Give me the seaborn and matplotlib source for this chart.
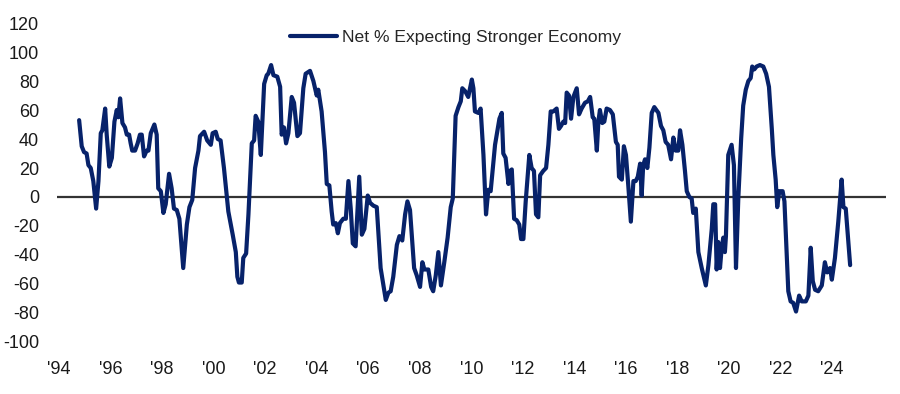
"""
Net % Expecting Stronger Economy, 1994-2024
- line chart in seaborn, values read off the reference picture
"""

import pandas as pd
import seaborn as sns
import matplotlib
matplotlib.use('Agg')
import matplotlib.pyplot as plt

# decimal year of each point and the net % value
years = [
    1994.78, 1994.88, 1994.97, 1995.07, 1995.14, 1995.23, 1995.33, 1995.44, 1995.53, 1995.62,
    1995.68, 1995.79, 1995.85, 1995.95, 1996.05, 1996.15, 1996.24, 1996.30, 1996.37, 1996.46,
    1996.56, 1996.63, 1996.72, 1996.78, 1996.84, 1996.95, 1997.05, 1997.14, 1997.21, 1997.30,
    1997.40, 1997.47, 1997.56, 1997.70, 1997.79, 1997.85, 1997.95, 1998.05, 1998.14, 1998.27,
    1998.37, 1998.46, 1998.57, 1998.67, 1998.82, 1998.96, 1999.06, 1999.17, 1999.28, 1999.41,
    1999.47, 1999.63, 1999.75, 1999.89, 1999.96, 2000.08, 2000.16, 2000.27, 2000.40, 2000.57,
    2000.74, 2000.86, 2000.92, 2000.98, 2001.09, 2001.15, 2001.26, 2001.35, 2001.48, 2001.57,
    2001.63, 2001.73, 2001.83, 2001.96, 2002.06, 2002.12, 2002.23, 2002.32, 2002.47, 2002.58,
    2002.64, 2002.73, 2002.81, 2002.90, 2003.03, 2003.12, 2003.25, 2003.35, 2003.48, 2003.57,
    2003.74, 2003.87, 2004.00, 2004.06, 2004.19, 2004.32, 2004.39, 2004.49, 2004.58, 2004.64,
    2004.74, 2004.82, 2004.90, 2005.03, 2005.13, 2005.23, 2005.32, 2005.40, 2005.51, 2005.65,
    2005.75, 2005.85, 2005.98, 2006.07, 2006.20, 2006.33, 2006.48, 2006.59, 2006.68, 2006.78,
    2006.87, 2006.97, 2007.11, 2007.21, 2007.32, 2007.43, 2007.52, 2007.62, 2007.78, 2007.88,
    2008.01, 2008.10, 2008.18, 2008.33, 2008.44, 2008.52, 2008.62, 2008.72, 2008.82, 2008.95,
    2009.08, 2009.20, 2009.28, 2009.39, 2009.50, 2009.59, 2009.65, 2009.76, 2009.88, 2010.02,
    2010.08, 2010.14, 2010.27, 2010.36, 2010.47, 2010.57, 2010.66, 2010.75, 2010.92, 2011.09,
    2011.18, 2011.24, 2011.33, 2011.44, 2011.50, 2011.57, 2011.66, 2011.76, 2011.86, 2011.93,
    2012.02, 2012.11, 2012.25, 2012.34, 2012.43, 2012.51, 2012.60, 2012.67, 2012.79, 2012.90,
    2012.99, 2013.08, 2013.18, 2013.31, 2013.40, 2013.48, 2013.57, 2013.64, 2013.70, 2013.79,
    2013.87, 2013.96, 2014.09, 2014.18, 2014.28, 2014.41, 2014.52, 2014.61, 2014.71, 2014.77,
    2014.87, 2014.93, 2014.99, 2015.08, 2015.16, 2015.25, 2015.38, 2015.49, 2015.61, 2015.68,
    2015.73, 2015.84, 2015.92, 2016.00, 2016.09, 2016.19, 2016.29, 2016.38, 2016.46, 2016.55,
    2016.61, 2016.67, 2016.74, 2016.83, 2016.91, 2017.00, 2017.10, 2017.26, 2017.36, 2017.45,
    2017.54, 2017.64, 2017.75, 2017.84, 2017.93, 2018.03, 2018.10, 2018.19, 2018.29, 2018.36,
    2018.46, 2018.55, 2018.61, 2018.71, 2018.81, 2018.94, 2019.10, 2019.20, 2019.33, 2019.39,
    2019.46, 2019.52, 2019.58, 2019.65, 2019.72, 2019.78, 2019.84, 2019.88, 2019.97, 2020.10,
    2020.19, 2020.27, 2020.36, 2020.47, 2020.55, 2020.65, 2020.75, 2020.84, 2020.90, 2020.98,
    2021.07, 2021.20, 2021.33, 2021.44, 2021.55, 2021.66, 2021.72, 2021.81, 2021.87, 2021.95,
    2022.08, 2022.15, 2022.24, 2022.30, 2022.39, 2022.49, 2022.60, 2022.72, 2022.82, 2022.98,
    2023.08, 2023.17, 2023.25, 2023.34, 2023.46, 2023.60, 2023.72, 2023.81, 2023.92, 2023.99,
    2024.11, 2024.24, 2024.37, 2024.44, 2024.53, 2024.70,
]
net_pct = [
    53, 35, 31, 30, 22, 20, 11, -8, 11, 44,
    46, 61, 43, 21, 27, 52, 60, 55, 68, 51,
    48, 43, 43, 37, 32, 32, 37, 43, 43, 28,
    32, 32, 44, 50, 43, 6, 4, -11, -5, 16,
    6, -8, -9, -15, -49, -19, -7, -2, 20, 32,
    42, 45, 39, 36, 44, 45, 40, 39, 20, -10,
    -26, -38, -55, -59, -59, -42, -39, -12, 37, 39,
    56, 52, 29, 78, 84, 85, 91, 84, 83, 76,
    43, 48, 37, 44, 69, 65, 42, 44, 75, 85,
    87, 80, 70, 74, 59, 31, 9, 8, -10, -19,
    -18, -25, -18, -15, -15, 11, -8, -32, -34, 14,
    -26, -22, 1, -4, -6, -7, -49, -61, -71, -66,
    -65, -55, -33, -27, -30, -12, -3, -9, -49, -54,
    -62, -45, -50, -50, -62, -65, -54, -38, -61, -45,
    -28, -7, -1, 56, 62, 66, 75, 73, 69, 81,
    75, 59, 58, 61, 29, -12, 5, 4, 36, 54,
    58, 30, 27, 9, 18, 19, -15, -16, -19, -29,
    -29, -3, 29, 20, 18, -12, -14, 15, 18, 20,
    36, 59, 59, 61, 47, 49, 52, 51, 72, 70,
    54, 69, 75, 57, 61, 65, 66, 69, 55, 54,
    32, 52, 60, 51, 52, 61, 60, 57, 38, 36,
    14, 12, 35, 29, 8, -17, 11, 11, 14, 23,
    1, 22, 26, 20, 34, 58, 62, 58, 49, 46,
    38, 36, 26, 41, 32, 32, 46, 36, 18, 4,
    0, -1, -11, -8, -38, -49, -61, -47, -22, -5,
    -5, -50, -31, -49, -34, -28, -38, -27, 29, 36,
    22, -49, -1, 40, 63, 74, 80, 82, 90, 88,
    90, 91, 90, 85, 76, 47, 29, 12, -7, 4,
    4, -3, -40, -65, -72, -73, -79, -68, -72, -72,
    -68, -35, -58, -64, -65, -61, -45, -52, -49, -57,
    -42, -17, 12, -7, -8, -47,
]

x_ticks = list(range(1994, 2025, 2))
x_labels = ["'" + str(y)[2:] for y in x_ticks]
y_ticks = list(range(-100, 121, 20))

df = pd.DataFrame({'ano': years, 'net': net_pct})

sns.set_style('white')
plt.rcParams['font.family'] = ['Liberation Sans', 'DejaVu Sans']
plt.rcParams['axes.unicode_minus'] = False

fig = plt.figure(figsize=(9, 3.94), dpi=100)
ax = fig.add_axes([0.0633, 0.132, 0.9211, 0.8096])

# linha do zero
ax.axhline(0, color='#333333', lw=1.6, zorder=1)

sns.lineplot(data=df, x='ano', y='net', ax=ax, color='#07226a', lw=3,
             label='Net % Expecting Stronger Economy', zorder=3)

ax.set_xlim(1993.92, 2026.09)
ax.set_ylim(-100, 120)
ax.set_xticks(x_ticks)
ax.set_xticklabels(x_labels)
ax.set_yticks(y_ticks)
ax.tick_params(axis='x', length=0, pad=13.5, labelsize=13, colors='#1a1a1a')
ax.tick_params(axis='y', length=0, pad=13, labelsize=13, colors='#1a1a1a')
ax.set_xlabel('')
ax.set_ylabel('')
for s in ax.spines.values():
    s.set_visible(False)

ax.legend(loc='center', bbox_to_anchor=(0.481, 0.954), frameon=False,
          fontsize=12.6, handlelength=2.7, handletextpad=0.3)

fig.savefig('out.png', dpi=100)
